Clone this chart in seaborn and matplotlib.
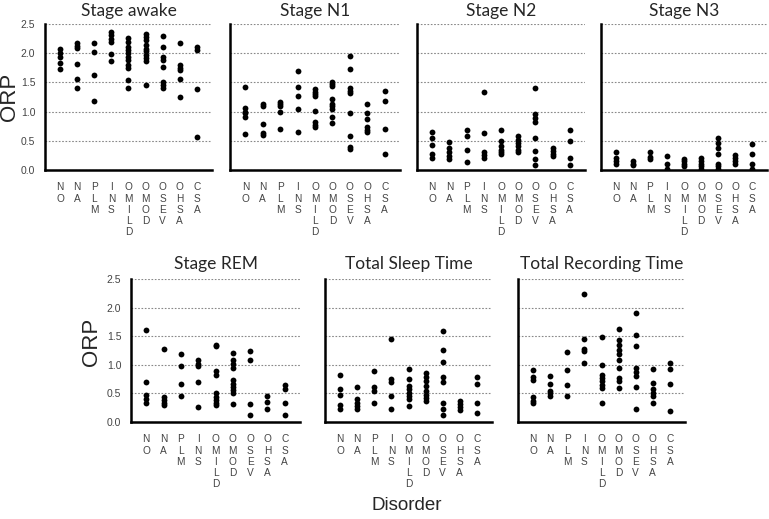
import pandas as pd
import matplotlib
matplotlib.use("Agg")
import matplotlib.pyplot as plt
import seaborn as sns

# === DATA ===
disorders = ["NO", "NA", "PLM", "INS", "OMILD", "OMOD", "OSEV", "OHSA", "CSA"]

stage_awake = [
    [2.07, 2.00, 1.93, 1.84, 1.73],
    [2.17, 2.13, 2.09, 1.82, 1.55, 1.41],
    [2.17, 2.02, 1.63, 1.18],
    [2.36, 2.31, 2.25, 2.20, 1.98, 1.87],
    [2.26, 2.19, 2.11, 2.05, 2.00, 1.94, 1.89, 1.80, 1.74, 1.54, 1.40],
    [2.33, 2.28, 2.22, 2.14, 2.07, 2.03, 1.97, 1.91, 1.87, 1.45],
    [2.30, 2.11, 1.94, 1.89, 1.77, 1.51, 1.45, 1.41],
    [2.18, 1.80, 1.74, 1.71, 1.56, 1.25],
    [2.10, 2.06, 1.38, 0.57],
]
stage_n1 = [
    [1.42, 1.06, 1.00, 0.97, 0.91, 0.61],
    [1.13, 1.09, 0.79, 0.63, 0.60],
    [1.17, 1.13, 1.10, 0.99, 0.70],
    [1.69, 1.42, 1.26, 1.04, 0.65],
    [1.38, 1.34, 1.30, 1.26, 1.01, 0.82, 0.77, 0.74],
    [1.51, 1.47, 1.44, 1.22, 1.13, 1.09, 1.04, 0.91, 0.80],
    [1.96, 1.73, 1.40, 1.36, 1.31, 0.98, 0.59, 0.40, 0.36],
    [1.13, 0.97, 0.87, 0.73, 0.69, 0.65],
    [1.36, 1.18, 0.70, 0.27],
]
stage_n2 = [
    [0.65, 0.55, 0.43, 0.27, 0.21],
    [0.48, 0.37, 0.30, 0.24, 0.18],
    [0.68, 0.58, 0.35, 0.14],
    [1.33, 0.63, 0.31, 0.26, 0.21],
    [0.69, 0.49, 0.41, 0.35, 0.31, 0.27],
    [0.58, 0.52, 0.47, 0.41, 0.35, 0.31],
    [1.41, 0.96, 0.89, 0.82, 0.55, 0.32, 0.19, 0.09],
    [0.38, 0.32, 0.28, 0.24],
    [0.68, 0.49, 0.20, 0.08],
]
stage_n3 = [
    [0.31, 0.21, 0.15, 0.10],
    [0.15, 0.11, 0.08],
    [0.31, 0.23, 0.18],
    [0.24, 0.10, 0.02],
    [0.19, 0.15, 0.11, 0.07],
    [0.20, 0.15, 0.11, 0.07, 0.01],
    [0.55, 0.47, 0.38, 0.27, 0.10, 0.07, 0.01],
    [0.26, 0.21, 0.16, 0.11],
    [0.44, 0.28, 0.11, 0.02],
]
stage_rem = [
    [1.60, 0.70, 0.47, 0.40, 0.33],
    [1.27, 0.44, 0.38, 0.33, 0.29],
    [1.19, 0.98, 0.66, 0.46],
    [1.09, 1.02, 0.98, 0.70, 0.26],
    [1.35, 1.32, 0.89, 0.82, 0.50, 0.44, 0.38, 0.33, 0.30],
    [1.20, 1.08, 1.02, 0.94, 0.73, 0.67, 0.61, 0.56, 0.50, 0.32],
    [1.24, 1.09, 0.31, 0.13],
    [0.45, 0.35, 0.22],
    [0.64, 0.58, 0.34, 0.13],
]
total_sleep = [
    [0.82, 0.57, 0.47, 0.30, 0.23],
    [0.62, 0.41, 0.34, 0.28, 0.22],
    [0.90, 0.61, 0.55, 0.33],
    [1.45, 0.76, 0.70, 0.45, 0.22],
    [0.92, 0.76, 0.63, 0.57, 0.51, 0.45, 0.40, 0.28],
    [0.86, 0.78, 0.72, 0.63, 0.54, 0.48, 0.42, 0.37],
    [1.59, 1.26, 1.05, 0.78, 0.70, 0.34, 0.23, 0.12],
    [0.37, 0.31, 0.26, 0.21],
    [0.78, 0.67, 0.34, 0.15],
]
total_recording = [
    [0.91, 0.78, 0.74, 0.43, 0.37, 0.33],
    [0.81, 0.67, 0.54, 0.50, 0.45],
    [1.23, 0.91, 0.65, 0.45],
    [2.23, 1.45, 1.28, 1.24, 1.03],
    [1.49, 0.99, 0.82, 0.77, 0.71, 0.65, 0.60, 0.34],
    [1.62, 1.43, 1.35, 1.26, 1.19, 1.09, 0.94, 0.77, 0.71, 0.60],
    [1.90, 1.52, 1.32, 0.94, 0.88, 0.81, 0.62, 0.22],
    [0.93, 0.69, 0.57, 0.51, 0.45, 0.34],
    [1.04, 0.93, 0.66, 0.19],
]

panel_titles = ["Stage awake", "Stage N1", "Stage N2", "Stage N3",
                "Stage REM", "Total Sleep Time", "Total Recording Time"]
panel_values = [stage_awake, stage_n1, stage_n2, stage_n3,
                stage_rem, total_sleep, total_recording]
y_ticks = [0.0, 0.5, 1.0, 1.5, 2.0, 2.5]


def to_long(values):
    rows = []
    for name, vals in zip(disorders, values):
        for v in vals:
            rows.append({"Disorder": name, "ORP": v})
    return pd.DataFrame(rows)


# axes boxes in pixels: left, right, top, bottom
W, H = 769, 519
boxes = [
    (45, 212, 24, 170), (230, 400, 24, 170), (417, 585, 24, 170), (601, 767, 24, 170),
    (131, 300, 279, 422), (325, 492, 279, 422), (518, 685, 279, 422),
]

sns.set_style("white")
fig = plt.figure(figsize=(W / 100, H / 100), dpi=100)

tick_font = "Liberation Sans"
vert_labels = ["\n".join(list(d)) for d in disorders]

for i, (title, values, box) in enumerate(zip(panel_titles, panel_values, boxes)):
    l, r, t, b = box
    ax = fig.add_axes([l / W, 1 - b / H, (r - l) / W, (b - t) / H])
    df = to_long(values)
    sns.stripplot(data=df, x="Disorder", y="ORP", order=disorders, jitter=False,
                  color="black", size=4.2, linewidth=0, ax=ax, zorder=3)
    ax.set_xlim(-0.88, 8.88)
    ax.set_ylim(0, 2.5)
    ax.set_yticks(y_ticks)
    ax.yaxis.grid(True, linestyle=(0, (1.5, 1.5)), color="#888888", linewidth=0.8)
    ax.xaxis.grid(False)
    for s in ["top", "right"]:
        ax.spines[s].set_visible(False)
    for s in ["left", "bottom"]:
        ax.spines[s].set_color("black")
        ax.spines[s].set_linewidth(1.8)
    ax.set_xticks(range(len(disorders)))
    ax.set_xticklabels(vert_labels, fontsize=7.3, color="#444444",
                       family=tick_font, linespacing=1.15, va="top")
    ax.tick_params(axis="x", length=3, color="#dddddd", pad=6)
    if i in (0, 4):
        ax.set_yticklabels([f"{v:.1f}" for v in y_ticks], fontsize=7.5,
                           color="#444444", family=tick_font)
        ax.tick_params(axis="y", length=0, pad=7)
    else:
        ax.set_yticklabels([])
        ax.tick_params(axis="y", length=0)
    ax.set_xlabel("")
    ax.set_ylabel("")
    ax.set_title(title, fontsize=12.5, family="Lato", pad=6 if i < 4 else 7)

fig.text(10 / W, 1 - 97 / H, "ORP", rotation=90, fontsize=16,
         family="Liberation Sans", ha="center", va="center")
fig.text(91 / W, 1 - 342 / H, "ORP", rotation=90, fontsize=16,
         family="Liberation Sans", ha="center", va="center")
fig.text(407 / W, 1 - 505 / H, "Disorder", fontsize=13.5,
         family="Liberation Sans", ha="center", va="center")

fig.savefig("out.png", dpi=100)
